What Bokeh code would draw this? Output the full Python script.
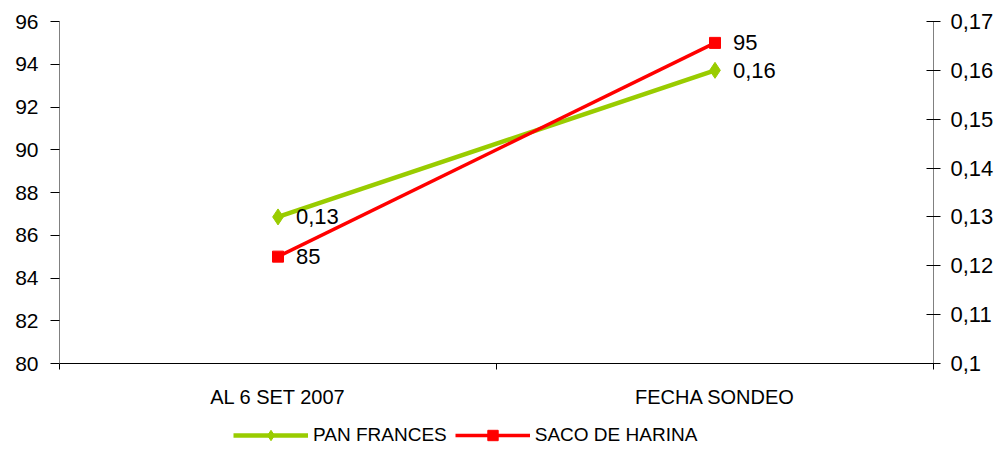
from bokeh.plotting import figure
from bokeh.layouts import column
from bokeh.models import (Range1d, LinearAxis, FixedTicker, CustomJSTickFormatter,
                          Legend, LegendItem, ColumnDataSource)
from bokeh.core.properties import value
from bokeh.embed import file_html
from bokeh.resources import INLINE

categories = ["AL 6 SET 2007", "FECHA SONDEO"]
series_names = ["PAN FRANCES", "SACO DE HARINA"]
pan_frances = [0.13, 0.16]
saco_harina = [85, 95]
pan_labels = ["0,13", "0,16"]
saco_labels = ["85", "95"]
left_ticks = [80, 82, 84, 86, 88, 90, 92, 94, 96]
right_ticks = [0.10, 0.11, 0.12, 0.13, 0.14, 0.15, 0.16, 0.17]

FONT = "Liberation Sans"
GREEN = "#99CC00"
RED = "#FF0000"

xs = [i + 0.5 for i in range(len(categories))]

p = figure(width=1000, height=415, output_backend="svg", toolbar_location=None,
           x_range=Range1d(0, len(categories)), y_range=Range1d(80, 96),
           min_border_left=59, min_border_right=67, min_border_top=21, min_border_bottom=52)
p.outline_line_color = None
p.grid.grid_line_color = None
p.extra_y_ranges = {"right": Range1d(0.10, 0.17)}

# x axis
p.xaxis.ticker = FixedTicker(ticks=xs, minor_ticks=[0, 1, 2])
p.xaxis.major_label_overrides = {x: c for x, c in zip(xs, categories)}
p.xaxis.major_tick_out = 0
p.xaxis.major_tick_in = 0
p.xaxis.minor_tick_out = 6
p.xaxis.minor_tick_in = 0
p.xaxis.major_label_text_font = FONT
p.xaxis.major_label_text_font_size = "20px"
p.xaxis.major_label_text_color = "#000000"
p.xaxis.major_label_standoff = 16
p.xaxis.axis_line_color = "#000000"
p.xaxis.minor_tick_line_color = "#000000"

# left axis
p.yaxis.ticker = FixedTicker(ticks=left_ticks)
p.yaxis.minor_tick_line_color = None
p.yaxis.major_tick_out = 9
p.yaxis.major_tick_in = 0
p.yaxis.major_label_text_font = FONT
p.yaxis.major_label_text_font_size = "21px"
p.yaxis.major_label_text_color = "#000000"
p.yaxis.major_label_standoff = 12
p.yaxis.axis_line_color = "#808080"
p.yaxis.major_tick_line_color = "#000000"

# right axis
ra = LinearAxis(y_range_name="right", ticker=FixedTicker(ticks=right_ticks),
                formatter=CustomJSTickFormatter(code="""
                    var s = tick.toFixed(2);
                    if (s.endsWith('0')) s = s.slice(0, -1);
                    return s.replace('.', ',');
                """))
ra.minor_tick_line_color = None
ra.major_tick_out = 7
ra.major_tick_in = 7
ra.major_label_text_font = FONT
ra.major_label_text_font_size = "22px"
ra.major_label_text_color = "#000000"
ra.major_label_standoff = 10
ra.axis_line_color = "#808080"
ra.major_tick_line_color = "#000000"
p.add_layout(ra, "right")

src_pan = ColumnDataSource(dict(x=xs, y=pan_frances, t=pan_labels))
src_saco = ColumnDataSource(dict(x=xs, y=saco_harina, t=saco_labels))

p.line("x", "y", source=src_pan, y_range_name="right", line_color=GREEN, line_width=4.5)
p.scatter("x", "y", source=src_pan, y_range_name="right", marker="diamond",
          size=16, fill_color=GREEN, line_color=GREEN)
p.line("x", "y", source=src_saco, line_color=RED, line_width=3.5)
p.scatter("x", "y", source=src_saco, marker="square", size=11,
          fill_color=RED, line_color=RED)

p.text("x", "y", text="t", source=src_pan, y_range_name="right", x_offset=18,
       text_baseline="middle", text_font=value(FONT), text_font_size="22px", text_color="#000000")
p.text("x", "y", text="t", source=src_saco, x_offset=18,
       text_baseline="middle", text_font=value(FONT), text_font_size="22px", text_color="#000000")

# legend strip below the chart (swatch renderers sit outside the visible range)
lf = figure(width=1000, height=35, output_backend="svg", toolbar_location=None,
            x_range=Range1d(0, 1), y_range=Range1d(0, 1),
            min_border_left=0, min_border_right=0, min_border_top=0, min_border_bottom=0)
lf.axis.visible = False
lf.grid.visible = False
lf.outline_line_color = None
offscreen = ColumnDataSource(dict(x=[-10, -9], y=[-10, -9]))
lg1 = lf.line("x", "y", source=offscreen, line_color=GREEN, line_width=4.5)
lg2 = lf.scatter("x", "y", source=offscreen, marker="diamond", size=16,
                 fill_color=GREEN, line_color=GREEN)
lr1 = lf.line("x", "y", source=offscreen, line_color=RED, line_width=3.5)
lr2 = lf.scatter("x", "y", source=offscreen, marker="square", size=11,
                 fill_color=RED, line_color=RED)
legend = Legend(items=[LegendItem(label=series_names[0], renderers=[lg1, lg2]),
                       LegendItem(label=series_names[1], renderers=[lr1, lr2])],
                orientation="horizontal", location=(174, 2),
                label_text_font=FONT, label_text_font_size="19px", label_text_color="#000000",
                glyph_width=75, glyph_height=26, spacing=8, padding=0, margin=0,
                label_standoff=5, border_line_color=None, background_fill_alpha=0)
lf.add_layout(legend, "center")

open("out.html", "w").write(file_html(column(p, lf, spacing=0), INLINE))
